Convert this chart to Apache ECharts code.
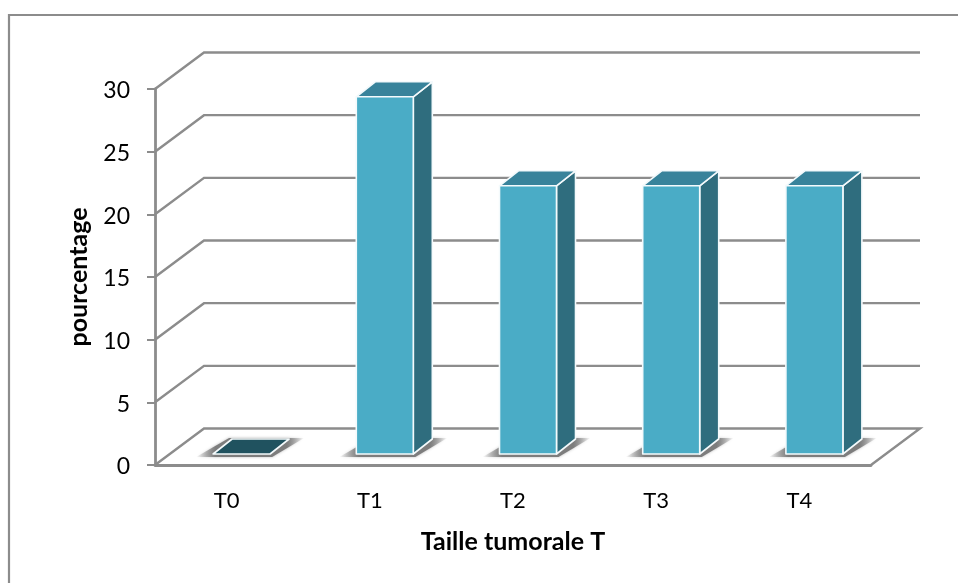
<!DOCTYPE html>
<html>
<head>
<meta charset="utf-8">
<style>html,body{margin:0;padding:0;background:#fff}#c{width:958px;height:583px}</style>
<script src="https://cdn.jsdelivr.net/npm/echarts@6/dist/echarts.min.js"></script>
</head>
<body>
<div id="c"></div>
<script>
const categories = ['T0', 'T1', 'T2', 'T3', 'T4'];
const percentages = [0, 28.5, 21.4, 21.4, 21.4];
const gridTicks = [0, 5, 10, 15, 20, 25, 30];

const FONT = 'Lato';
const LINE = '#8c8c8c';
const FLOOR_DX = 49, FLOOR_DY = -36.5;
const SHIFT_DX = 15, SHIFT_DY = -11;
const BAR_W = 57, BAR_DX = 19, BAR_DY = -15;

function renderGrid(params, api) {
  const v = api.value(0);
  const cs = params.coordSys;
  const y = api.coord([0, v])[1];
  const x0 = cs.x, x1 = cs.x + cs.width;
  const pts = [[x0, y], [x0 + FLOOR_DX, y + FLOOR_DY], [x1 + FLOOR_DX, y + FLOOR_DY]];
  if (v === 0) pts.push([x1, y]);
  return {
    type: 'polyline',
    shape: { points: pts },
    style: { stroke: LINE, lineWidth: 2.4, fill: null }
  };
}

function renderShadow(params, api) {
  const p = api.coord([api.value(0), 0]);
  const l = p[0] + SHIFT_DX - BAR_W / 2, r = l + BAR_W, b = p[1] + SHIFT_DY;
  const gray = a => 'rgba(125,125,125,' + a + ')';
  return {
    type: 'polygon',
    shape: { points: [[l - 17, b + 3], [r + 2, b + 3], [r + BAR_DX + 15, b + BAR_DY - 1], [l + BAR_DX - 3, b + BAR_DY - 1]] },
    style: {
      fill: new echarts.graphic.LinearGradient(0, 0, 1, 0, [
        { offset: 0, color: gray(0) },
        { offset: 0.18, color: gray(1) },
        { offset: 0.84, color: gray(1) },
        { offset: 1, color: gray(0) }
      ]),
      shadowBlur: 3,
      shadowColor: 'rgba(170,170,170,0.8)'
    }
  };
}

function renderBar(params, api) {
  const cat = api.value(0), val = api.value(1);
  const p = api.coord([cat, val]);
  const base = api.coord([cat, 0]);
  const l = p[0] + SHIFT_DX - BAR_W / 2, r = l + BAR_W;
  const t = p[1] + SHIFT_DY, b = base[1] + SHIFT_DY;
  const edge = { stroke: '#f4fafc', lineWidth: 1.6, lineJoin: 'round' };
  const poly = (points, fill) => ({ type: 'polygon', shape: { points }, style: Object.assign({ fill }, edge) });
  const topFace = [[l, t], [r, t], [r + BAR_DX, t + BAR_DY], [l + BAR_DX, t + BAR_DY]];
  if (val === 0) {
    return { type: 'group', children: [poly(topFace, '#20525f')] };
  }
  return {
    type: 'group',
    children: [
      poly([[r, t], [r + BAR_DX, t + BAR_DY], [r + BAR_DX, b + BAR_DY], [r, b]], '#2f6d7e'),
      poly(topFace, '#38839b'),
      poly([[l, t], [r, t], [r, b], [l, b]], '#4aacc6')
    ]
  };
}

const chart = echarts.init(document.getElementById('c'), null, { renderer: 'canvas' });
chart.setOption({
  animation: false,
  backgroundColor: '#fff',
  graphic: [{
    type: 'polyline',
    shape: { points: [[9, 583], [9, 15], [958, 15]] },
    style: { stroke: LINE, lineWidth: 2.2, fill: null },
    silent: true
  }],
  grid: { left: 155, top: 89, width: 716, height: 376 },
  xAxis: {
    type: 'category',
    data: categories,
    axisLine: { lineStyle: { color: LINE, width: 2.8 } },
    axisTick: { show: false },
    axisLabel: { color: '#000', fontFamily: FONT, fontSize: 22, margin: 25 },
    name: 'Taille tumorale T',
    nameLocation: 'middle',
    nameGap: 64,
    nameTextStyle: { color: '#000', fontFamily: FONT, fontSize: 25, fontWeight: 'bold' }
  },
  yAxis: {
    type: 'value',
    min: 0, max: 30, interval: 5,
    axisLine: { show: true, lineStyle: { color: LINE, width: 2.8 } },
    axisTick: { show: true, length: 8, lineStyle: { color: LINE, width: 2 } },
    splitLine: { show: false },
    axisLabel: {
      margin: 25,
      formatter: '{a|{value}}',
      rich: { a: { color: '#000', fontFamily: FONT, fontSize: 23, padding: [4, 0, 0, 0] } }
    },
    name: 'pourcentage',
    nameLocation: 'middle',
    nameGap: 64,
    nameTextStyle: { color: '#000', fontFamily: FONT, fontSize: 25, fontWeight: 'bold' }
  },
  series: [
    { type: 'custom', z: 1, clip: false, silent: true, coordinateSystem: 'cartesian2d',
      encode: { y: 0 }, data: gridTicks.map(v => [v]), renderItem: renderGrid },
    { type: 'custom', z: 2, clip: false, silent: true,
      encode: { x: 0, y: 1 }, data: categories.map((c, i) => [i, percentages[i]]), renderItem: renderShadow },
    { type: 'custom', z: 3, clip: false, silent: true,
      encode: { x: 0, y: 1 }, data: categories.map((c, i) => [i, percentages[i]]), renderItem: renderBar }
  ]
});
</script>
</body>
</html>
